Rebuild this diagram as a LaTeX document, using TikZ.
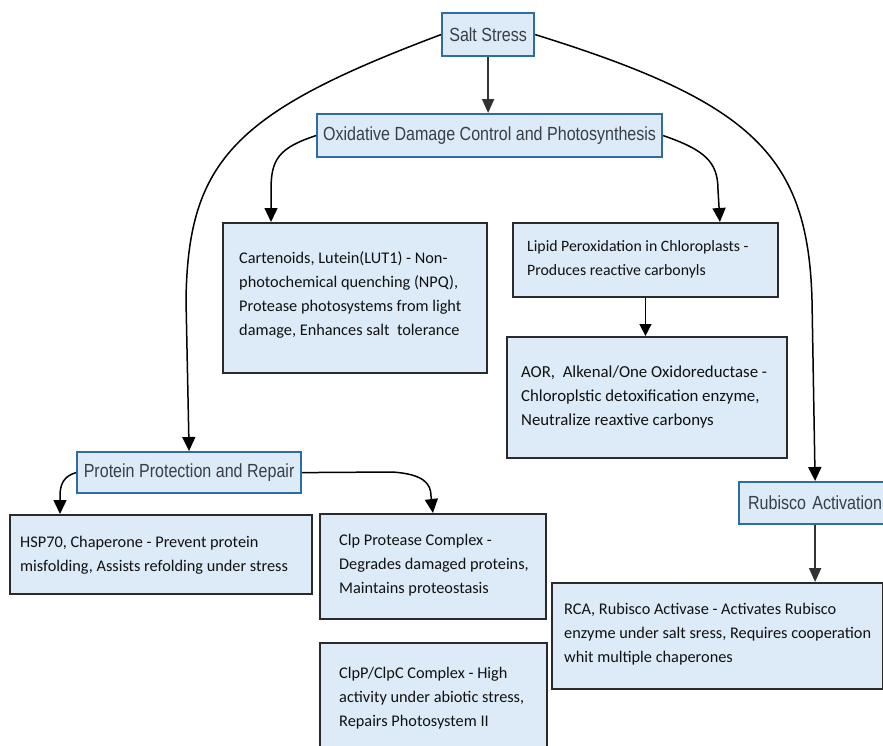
\documentclass[tikz,border=0pt]{standalone}
\usepackage{fontspec}
\setmainfont{Carlito}
\newfontfamily\headfont[FakeStretch=0.845]{Liberation Sans}
\usetikzlibrary{arrows.meta}

\definecolor{boxfill}{HTML}{DCEBF7}
\definecolor{headline}{HTML}{2E6CA4}
\definecolor{headtext}{HTML}{3A3F47}
\definecolor{bodyline}{HTML}{2A2A2A}
\definecolor{bodytext}{HTML}{111111}

\tikzset{
  headbox/.style={draw=headline, line width=2.2pt, fill=boxfill, anchor=north west,
    text=headtext, font=\headfont\fontsize{19}{22}\selectfont, inner xsep=0pt, inner ysep=0pt},
  bodybox/.style={draw=bodyline, line width=1.9pt, fill=boxfill, anchor=north west},
  bodytext/.style={anchor=west, inner sep=0pt, align=left, text=bodytext,
    font=\fontsize{16.3}{24}\selectfont},
  link/.style={line width=1.5pt, draw=black, -{Triangle[width=13pt,length=14pt]}},
  mainlink/.style={line width=2pt, draw=black!80, -{Triangle[width=12pt,length=14pt]}},
}

\begin{document}
\begin{tikzpicture}[x=1pt, y=-1pt]
\useasboundingbox (0,0) rectangle (883,745);

% headline boxes
\node[headbox, minimum width=92pt, minimum height=43pt] (salt) at (441,12) {Salt Stress};
\node[headbox, minimum width=345pt, minimum height=43pt] (oxid) at (316,113) {Oxidative Damage Control and Photosynthesis};
\node[headbox, minimum width=224pt, minimum height=41pt] (prot) at (76,451) {Protein Protection and Repair};
\node[headbox, minimum width=152pt, minimum height=42pt, text width=152pt, align=left] (rubi) at (738,481) {\hspace*{9pt}Rubisco Activation};

% detail boxes
\node[bodybox, minimum width=264pt, minimum height=150pt] (cart) at (222,222) {};
\node[bodybox, minimum width=265pt, minimum height=74pt] (lipid) at (512,222) {};
\node[bodybox, minimum width=280pt, minimum height=121pt] (aor) at (506,336) {};
\node[bodybox, minimum width=302pt, minimum height=79pt] (hsp) at (9,514) {};
\node[bodybox, minimum width=226pt, minimum height=105pt] (clp) at (319,513) {};
\node[bodybox, minimum width=227pt, minimum height=125pt] (clpc) at (319,642) {};
\node[bodybox, minimum width=331pt, minimum height=106pt] (rca) at (551,582) {};

% texts of the detail boxes
\node[bodytext] (cartT) at ([xshift=17pt, yshift=3pt]cart.west)
  {Cartenoids, Lutein(LUT1) - Non-\\photochemical quenching (NPQ),\\Protease photosystems from light\\damage, Enhances salt\ \ tolerance};
\node[bodytext, font=\fontsize{15.8}{24}\selectfont] (lipidT) at ([xshift=15pt, yshift=1pt]lipid.west)
  {Lipid Peroxidation in Chloroplasts -\\Produces reactive carbonyls};
\node[bodytext, font=\fontsize{16.8}{24}\selectfont] (aorT) at ([xshift=15pt]aor.west)
  {AOR,\ \ Alkenal/One Oxidoreductase -\\Chloroplstic detoxification enzyme,\\Neutralize reaxtive carbonys};
\node[bodytext] (hspT) at ([xshift=11pt, yshift=-1pt]hsp.west)
  {HSP70, Chaperone - Prevent protein\\misfolding, Assists refolding under stress};
\node[bodytext] (clpT) at ([xshift=20pt, yshift=1pt]clp.west)
  {Clp Protease Complex -\\Degrades damaged proteins,\\Maintains proteostasis};
\node[bodytext] (clpcT) at ([xshift=20pt]clpc.north west) [anchor=north west, yshift=-25pt]
  {ClpP/ClpC Complex - High\\activity under abiotic stress,\\Repairs Photosystem II};
\node[bodytext] (rcaT) at ([xshift=13pt, yshift=2pt]rca.west)
  {RCA, Rubisco Activase - Activates Rubisco\\enzyme under salt sress, Requires cooperation\\whit multiple chaperones};

% connectors
\draw[mainlink] (salt.south) -- (salt.south |- oxid.north);
\draw[link] (salt.west) .. controls (235,112) and (188,160) .. (186,300) -- (prot.north);
\draw[link] (salt.east) .. controls (752,102) and (808,155) .. (812,300) -- (rubi.north);
\draw[link] (oxid.west) .. controls (278,148) and (271,160) .. (271,190) -- ([xshift=49pt]cart.north west);
\draw[link] (oxid.east) .. controls (705,150) and (718,162) .. (718,190) -- ([xshift=-59pt]lipid.north east);
\draw[link, -{Triangle[width=12pt,length=12pt]}] (lipid.south) -- (lipid.south |- aor.north);
\draw[link] (prot.west) .. controls (64,476) and (60,484) .. (60,496) -- ([xshift=51pt]hsp.north west);
\draw[link] (prot.east) -- (392,472) .. controls (424,474) and (431,484) .. (431,496) -- (clp.north);
\draw[mainlink] (rubi.south) -- (rubi.south |- rca.north);
\end{tikzpicture}
\end{document}
